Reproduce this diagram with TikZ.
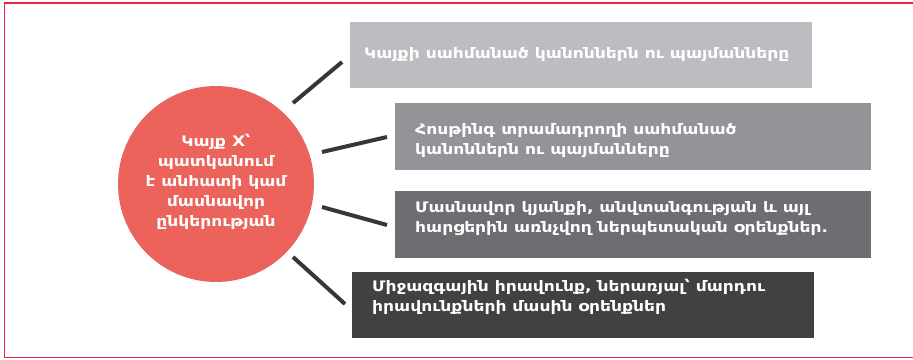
\documentclass[tikz,border=0pt]{standalone}
\usepackage{fontspec}
\setmainfont{DejaVu Sans}
\newfontfamily\armfont[FakeStretch=1.18]{DejaVu Sans}
\definecolor{framered}{RGB}{232,36,70}
\definecolor{circred}{RGB}{235,99,90}
\definecolor{boxa}{RGB}{188,189,193}
\definecolor{boxb}{RGB}{147,148,151}
\definecolor{boxc}{RGB}{109,110,113}
\definecolor{boxd}{RGB}{65,64,66}
\definecolor{linkcol}{RGB}{55,55,57}
\begin{document}
\begin{tikzpicture}[x=1pt,y=-1pt,
  boxstyle/.style={draw=none,inner sep=0pt,anchor=north west},
  boxtext/.style={text=white,font=\armfont\bfseries\fontsize{14.5}{20}\selectfont,align=left,anchor=west,inner sep=0pt},
  link/.style={draw=linkcol,line width=4pt}]
\useasboundingbox (0,0) rectangle (913,359);
% frame
\draw[framered,line width=1.5pt] (913,3) -- (4.5,3) -- (4.5,357.5) -- (913,357.5);
% circle
\node[circle,fill=circred,minimum size=196pt,inner sep=0pt] (hub) at (216,184) {};
\node[text=white,font=\armfont\bfseries\fontsize{14.5}{20}\selectfont,align=center] (hubtxt) at (216,182)
  {Կայք X՝\\պատկանում\\է անհատի կամ\\մասնավոր\\ընկերության};
% boxes
\fill[boxa] (350,22) rectangle (812,88);
\node[boxstyle,minimum width=462pt,minimum height=66pt] (b1) at (350,22) {};
\fill[boxb] (395,103) rectangle (871,170);
\node[boxstyle,minimum width=476pt,minimum height=67pt] (b2) at (395,103) {};
\fill[boxc] (395,191) rectangle (871,258);
\node[boxstyle,minimum width=476pt,minimum height=67pt] (b3) at (395,191) {};
\fill[boxd] (352,272) rectangle (814,338);
\node[boxstyle,minimum width=462pt,minimum height=66pt] (b4) at (352,272) {};
% texts
\node[boxtext] (t1) at (364,55) {Կայքի սահմանած կանոններն ու պայմանները};
\node[boxtext] (t2) at (415,141) {Հոսթինգ տրամադրողի սահմանած\\կանոններն ու պայմանները};
\node[boxtext] (t3) at (415,219) {Մասնավոր կյանքի, անվտանգության և այլ\\հարցերին առնչվող ներպետական օրենքներ.};
\node[boxtext] (t4) at (372,297) {Միջազգային իրավունք, ներառյալ՝ մարդու\\իրավունքների մասին օրենքներ};
% connectors
\coordinate (c1a) at (293,103); \coordinate (c1b) at (342,62);
\coordinate (c2a) at (322,152); \coordinate (c2b) at (387,137);
\coordinate (c3a) at (322,207); \coordinate (c3b) at (387,225);
\coordinate (c4a) at (293,257); \coordinate (c4b) at (345,304);
\draw[link] (c1a) -- (c1b);
\draw[link] (c2a) -- (c2b);
\draw[link] (c3a) -- (c3b);
\draw[link] (c4a) -- (c4b);
\end{tikzpicture}
\end{document}
